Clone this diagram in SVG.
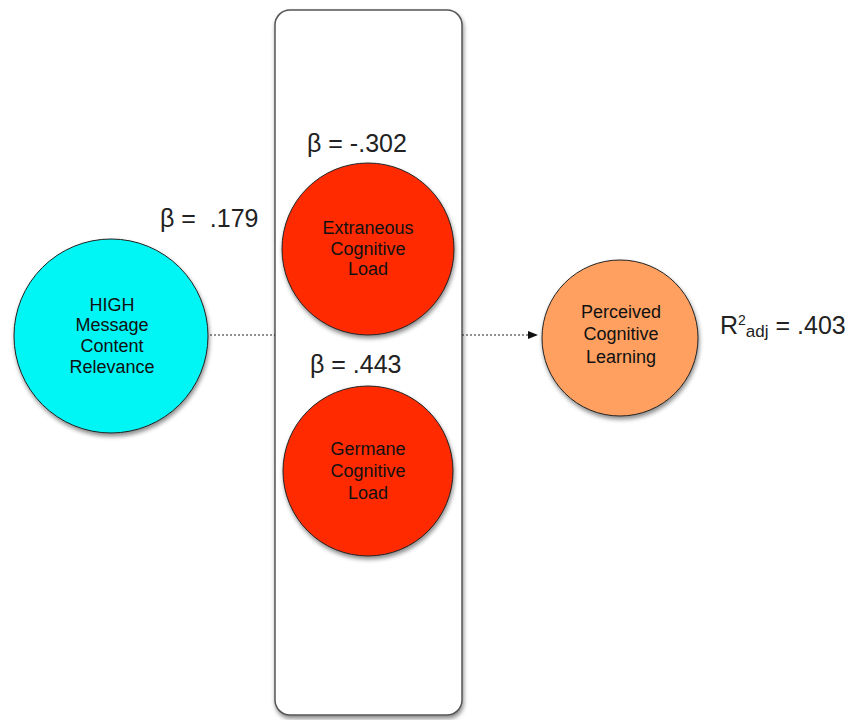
<svg xmlns="http://www.w3.org/2000/svg" width="849" height="720" viewBox="0 0 849 720">
<defs>
<filter id="sh" x="-20%" y="-20%" width="140%" height="140%">
<feDropShadow dx="1" dy="3" stdDeviation="2" flood-color="#000" flood-opacity="0.45"/>
</filter>
<marker id="ah" markerWidth="10" markerHeight="8" refX="9" refY="4" orient="auto" markerUnits="userSpaceOnUse">
<path d="M0,0 L10,4 L0,8 Z" fill="#111"/>
</marker>
</defs>
<style>
.node{stroke:#222;stroke-width:1;filter:url(#sh)}
.lbl{font-family:"Liberation Sans",Arial,sans-serif;font-size:18px;text-anchor:middle;fill:#111}
.beta{font-family:"Liberation Sans",Arial,sans-serif;font-size:25px;fill:#222}
.conn{stroke:#222;stroke-width:1.2;stroke-dasharray:2,2;fill:none}
</style>
<rect width="849" height="720" fill="#fff"/>
<g id="box">
<rect x="275" y="10" width="187" height="705" rx="15" ry="15" fill="#fff" stroke="#555" stroke-width="1.5" filter="url(#sh)"/>
</g>
<g id="connectors">
<line class="conn" x1="210" y1="335" x2="275" y2="335"/>
<line class="conn" x1="462" y1="335" x2="537" y2="335" marker-end="url(#ah)"/>
</g>
<g id="node-high">
<circle class="node" cx="111" cy="336" r="97" fill="#00f5f5"/>
<text class="lbl" x="112" y="311">HIGH</text>
<text class="lbl" x="112" y="331">Message</text>
<text class="lbl" x="112" y="352">Content</text>
<text class="lbl" x="112" y="373">Relevance</text>
</g>
<g id="node-extraneous">
<circle class="node" cx="368" cy="249" r="86" fill="#ff2a00"/>
<text class="lbl" x="368" y="234">Extraneous</text>
<text class="lbl" x="368" y="255">Cognitive</text>
<text class="lbl" x="368" y="275">Load</text>
</g>
<g id="node-germane">
<circle class="node" cx="368" cy="471" r="85" fill="#ff2a00"/>
<text class="lbl" x="368" y="455">Germane</text>
<text class="lbl" x="368" y="477">Cognitive</text>
<text class="lbl" x="368" y="499">Load</text>
</g>
<g id="node-perceived">
<circle class="node" cx="620" cy="338" r="78" fill="#ffa060"/>
<text class="lbl" x="621" y="318">Perceived</text>
<text class="lbl" x="621" y="340">Cognitive</text>
<text class="lbl" x="621" y="363">Learning</text>
</g>
<g id="labels">
<text class="beta" x="307" y="152">β = -.302</text>
<text class="beta" x="310" y="373">β = .443</text>
<text class="beta" x="160" y="227" xml:space="preserve">β =  .179</text>
<text class="beta" x="720" y="334">R<tspan font-size="14" dy="-9">2</tspan><tspan font-size="17" dy="12">adj</tspan><tspan dy="-3" xml:space="preserve"> = .403</tspan></text>
</g>
</svg>
